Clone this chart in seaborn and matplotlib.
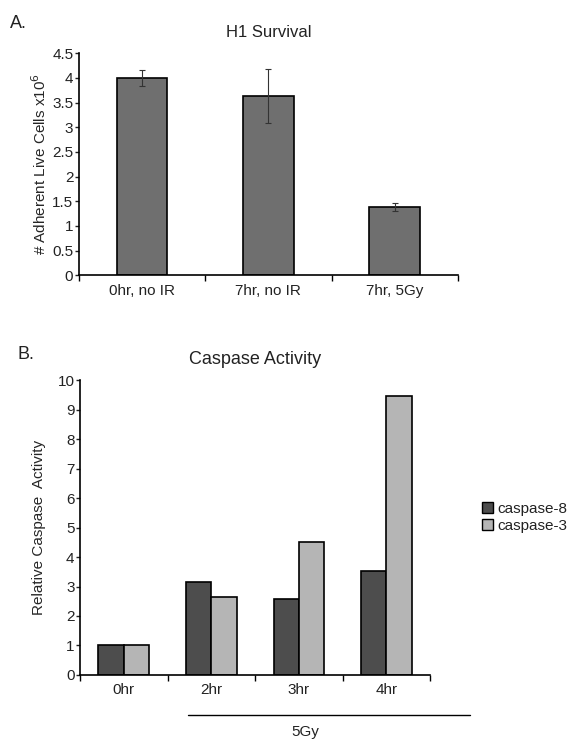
import matplotlib
matplotlib.use("Agg")
import matplotlib.pyplot as plt
from matplotlib.ticker import FixedLocator, NullFormatter
import seaborn as sns
import pandas as pd
import numpy as np

# ---- data: panel A ----
survival_categories = ["0hr, no IR", "7hr, no IR", "7hr, 5Gy"]
survival_values = [4.0, 3.63, 1.39]
survival_errors = [0.16, 0.55, 0.08]

# ---- data: panel B ----
caspase_times = ["0hr", "2hr", "3hr", "4hr"]
caspase8_values = [1.0, 3.16, 2.57, 3.53]
caspase3_values = [1.0, 2.65, 4.5, 9.46]
caspase_series = ["caspase-8", "caspase-3"]

sns.set_theme(style="white")
plt.rcParams['font.family'] = ['Liberation Sans Narrow', 'Liberation Sans', 'DejaVu Sans']
plt.rcParams['text.color'] = '#222222'

fig = plt.figure(figsize=(5.76, 7.4), dpi=100)

def style_axes(ax, n):
    sns.despine(ax=ax)
    for s in ("left", "bottom"):
        ax.spines[s].set_color("black")
        ax.spines[s].set_linewidth(1.2)
    ax.set_xlim(-0.5, n - 0.5)
    ax.tick_params(axis="x", which="major", length=0, labelsize=11, pad=6, colors="#222222")
    ax.xaxis.set_minor_locator(FixedLocator(np.arange(-0.5, n, 1.0)))
    ax.xaxis.set_minor_formatter(NullFormatter())
    ax.tick_params(axis="x", which="minor", length=4, width=1, direction="out", color="black", bottom=True)
    ax.tick_params(axis="y", length=3, width=1, direction="out", left=True, labelsize=11, pad=1, colors="#222222")
    ax.set_xlabel("")

# ---- panel A ----
axA = fig.add_axes([0.137, 0.628, 0.658, 0.30])
dfA = pd.DataFrame({"cat": survival_categories, "val": survival_values})
sns.barplot(data=dfA, x="cat", y="val", color="#6f6f6f", saturation=1,
            width=0.4, edgecolor="black", linewidth=1.2, errorbar=None, ax=axA)
axA.errorbar(np.arange(len(survival_categories)), survival_values, yerr=survival_errors,
             fmt="none", ecolor="#333333", elinewidth=0.8, capsize=2, capthick=0.8)
style_axes(axA, len(survival_categories))
axA.set_ylim(0, 4.5)
axA.set_yticks(np.arange(0, 4.51, 0.5))
axA.set_yticklabels(["0", "0.5", "1", "1.5", "2", "2.5", "3", "3.5", "4", "4.5"])
axA.set_ylabel("# Adherent Live Cells x10$^6$", fontsize=11, labelpad=2)
axA.set_title("H1 Survival", fontsize=12, pad=12)
fig.text(0.018, 0.962, "A.", fontsize=13)

# ---- panel B ----
axB = fig.add_axes([0.139, 0.088, 0.608, 0.398])
dfB = pd.DataFrame({
    "time": caspase_times * 2,
    "val": caspase8_values + caspase3_values,
    "series": [caspase_series[0]] * len(caspase_times) + [caspase_series[1]] * len(caspase_times),
})
sns.barplot(data=dfB, x="time", y="val", hue="series",
            palette={"caspase-8": "#4d4d4d", "caspase-3": "#b5b5b5"}, saturation=1,
            width=0.58, gap=0, edgecolor="black", linewidth=1.2, errorbar=None, ax=axB)
style_axes(axB, len(caspase_times))
axB.set_ylim(0, 10)
axB.set_yticks(np.arange(0, 11, 1))
axB.set_ylabel("Relative Caspase  Activity", fontsize=11, labelpad=8)
axB.set_title("Caspase Activity", fontsize=13, pad=12)
leg = axB.legend(loc="center left", bbox_to_anchor=(1.13, 0.535), frameon=False,
                 fontsize=11, handlelength=0.7, handleheight=0.7, handletextpad=0.3,
                 labelspacing=0.2, borderaxespad=0)
for h in leg.legend_handles:
    h.set_edgecolor("black")
    h.set_linewidth(1.0)
fig.text(0.03, 0.515, "B.", fontsize=13)

# 5Gy bracket line under 2hr-4hr
line_y = 1 - 715 / 740
fig.add_artist(plt.Line2D([188 / 576, 470 / 576], [line_y, line_y], color="black", linewidth=1.0))
fig.text(305 / 576, 1 - 732 / 740, "5Gy", fontsize=11, ha="center", va="center")

fig.savefig("out.png", dpi=100)
